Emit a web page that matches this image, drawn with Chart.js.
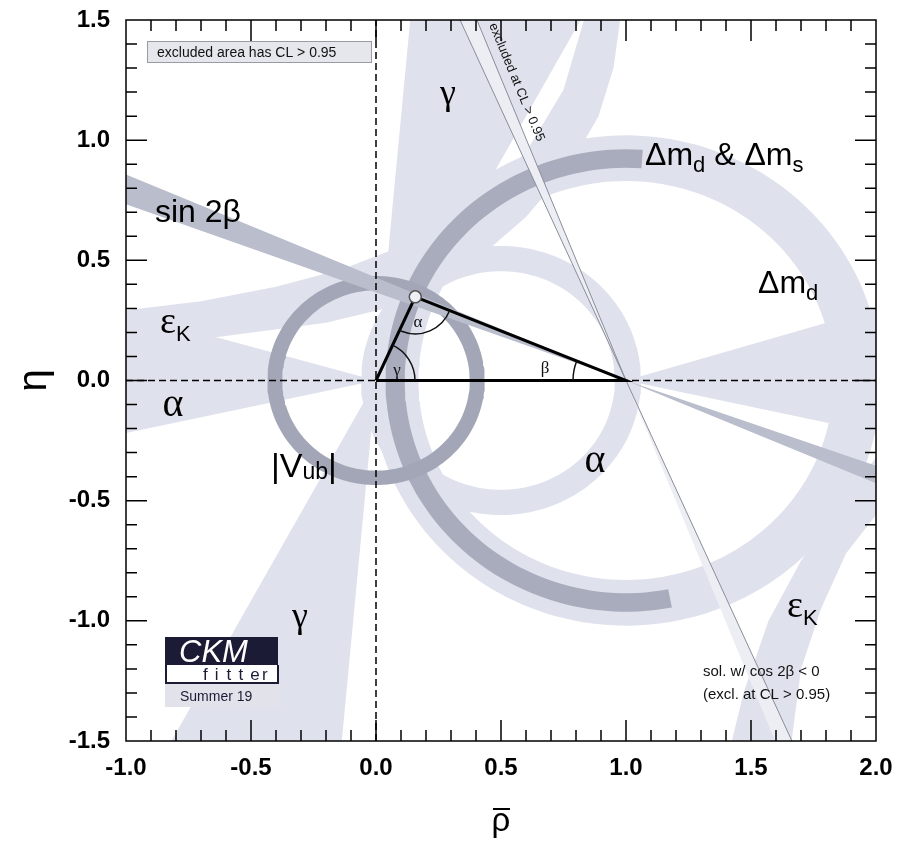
<!DOCTYPE html>
<html>
<head>
<meta charset="utf-8">
<title>CKMfitter Summer 19 - rho/eta plane</title>
<script src="https://cdn.jsdelivr.net/npm/chart.js@4.4.1/dist/chart.umd.min.js"></script>
<style>
  html, body { margin: 0; padding: 0; background: #fff; }
</style>
</head>
<body>
<canvas id="ckm" width="898" height="841"></canvas>
<script>
'use strict';

/* ------------------------------------------------------------------
   Data
------------------------------------------------------------------ */
var rhoRange  = [-1.0, 2.0];
var etaRange  = [-1.5, 1.5];
var tickStep  = 0.1;
var majorStep = 0.5;

// unitarity triangle (0,0) - apex - (1,0)
var triangleRho = [0.0, 0.157, 1.0, 0.0];
var triangleEta = [0.0, 0.348, 0.0, 0.0];

// rings: centre rho, centre eta, inner r, outer r, from deg, to deg
var vubRing   = [0.0, 0.0, 0.375, 0.435, 0, 360];
var dmsRing   = [1.0, 0.0, 0.885, 0.962, 86, 281];
var dmdRing   = [1.0, 0.0, 0.830, 1.020, 0, 360];
var alphaRing = [0.5, 0.0, 0.455, 0.560, 0, 360];

// bands as [rho, eta] outlines
var gammaUp    = [[0, 0], [0.146, 1.6], [0.873, 1.6]];
var gammaDown  = [[0, 0], [-0.873, -1.6], [-0.146, -1.6]];
var alphaLeft  = [[0, 0], [-1.1, 0.31], [-1.1, -0.24]];
var alphaRight = [[1, 0], [2.1, 0.33], [2.1, -0.24]];
var epsKUpper  = [[-1.1, 0.28], [-0.7, 0.33], [-0.4, 0.39], [-0.13, 0.465], [0.157, 0.58],
                  [0.4, 0.74], [0.6, 0.95], [0.75, 1.21], [0.86, 1.6],
                  [0.99, 1.6], [0.95, 1.3], [0.89, 1.1], [0.78, 0.9], [0.6, 0.68],
                  [0.4, 0.5], [0.157, 0.33], [-0.2, 0.24], [-0.64, 0.18], [-1.1, 0.14]];
var epsKLower  = [[1.40, -1.6], [1.47, -1.3], [1.57, -1.0], [1.7, -0.75], [1.85, -0.52],
                  [2.0, -0.32], [2.1, -0.25], [2.1, -0.5], [2.0, -0.56], [1.88, -0.72],
                  [1.78, -0.95], [1.7, -1.2], [1.65, -1.6]];
var sin2bBand  = [[1, 0], [-1.1, 0.90], [-1.1, 0.77], [1, 0], [2.1, -0.39], [2.1, -0.47]];
var sin2bExcl  = [[1, 0], [0.292, 1.6], [0.364, 1.6], [1, 0], [1.708, -1.6], [1.636, -1.6]];

/* ------------------------------------------------------------------
   Helpers
------------------------------------------------------------------ */
var SANS  = '"Liberation Sans", Arial, Helvetica, sans-serif';
var SERIF = '"Liberation Serif", "Times New Roman", serif';

var LIGHT = '#dfe2ec';
var MID   = '#b9bdcc';
var DARK  = '#a2a6b7';

function toXY(list) {
    return list.map(function (p) { return { x: p[0], y: p[1] }; });
}

// annulus sector outline: outer edge one way, inner edge back
function ringXY(r) {
    var pts = [], d = Math.PI / 180, n = Math.ceil((r[5] - r[4]) / 2), i, a;
    for (i = 0; i <= n; i++) {
        a = (r[4] + (r[5] - r[4]) * i / n) * d;
        pts.push({ x: r[0] + r[3] * Math.cos(a), y: r[1] + r[3] * Math.sin(a) });
    }
    for (i = n; i >= 0; i--) {
        a = (r[4] + (r[5] - r[4]) * i / n) * d;
        pts.push({ x: r[0] + r[2] * Math.cos(a), y: r[1] + r[2] * Math.sin(a) });
    }
    return pts;
}

function band(label, pts, color, order, edge) {
    return {
        label: label, data: pts, fill: 'shape', backgroundColor: color,
        borderColor: edge || color, borderWidth: edge ? 1 : 0,
        pointRadius: 0, order: order
    };
}

function isMajor(v) {
    var k = v / majorStep;
    return Math.abs(k - Math.round(k)) < 1e-6;
}

function runs(ctx, parts, x, y) {
    parts.forEach(function (p) {
        ctx.font = p[1];
        ctx.fillText(p[0], x, y + (p[2] || 0));
        x += ctx.measureText(p[0]).width;
    });
}

/* ------------------------------------------------------------------
   Decorations: frame, inward ticks, angles, labels, logo
------------------------------------------------------------------ */
var decorPlugin = {
    id: 'ckmDecor',
    afterDatasetsDraw: function (chart) {
        var ctx = chart.ctx, xs = chart.scales.x, ys = chart.scales.y, area = chart.chartArea;
        var px = function (v) { return xs.getPixelForValue(v); };
        var py = function (v) { return ys.getPixelForValue(v); };

        ctx.save();

        // angle markers of the triangle
        function angleArc(c, p1, p2, rad) {
            var cx = px(c[0]), cy = py(c[1]);
            var a1 = Math.atan2(py(p1[1]) - cy, px(p1[0]) - cx);
            var a2 = Math.atan2(py(p2[1]) - cy, px(p2[0]) - cx);
            var lo = Math.min(a1, a2), hi = Math.max(a1, a2);
            if (hi - lo > Math.PI) { var t = lo; lo = hi; hi = t + 2 * Math.PI; }
            ctx.beginPath();
            ctx.arc(cx, cy, rad, lo, hi);
            ctx.stroke();
        }
        var O = [triangleRho[0], triangleEta[0]], A = [triangleRho[1], triangleEta[1]], B = [triangleRho[2], triangleEta[2]];
        ctx.strokeStyle = '#111';
        ctx.lineWidth = 1.5;
        angleArc(O, B, A, 39);
        angleArc(A, O, B, 37);
        angleArc(B, O, A, 53);

        // fit result at the apex
        ctx.beginPath();
        ctx.arc(px(A[0]), py(A[1]), 6, 0, 2 * Math.PI);
        ctx.fillStyle = '#eef0f5';
        ctx.fill();
        ctx.strokeStyle = '#555';
        ctx.lineWidth = 1.5;
        ctx.stroke();

        // frame and inward ticks
        ctx.strokeStyle = '#000';
        ctx.lineWidth = 1.5;
        ctx.strokeRect(area.left, area.top, area.right - area.left, area.bottom - area.top);
        xs.ticks.forEach(function (t) {
            if (t.value <= rhoRange[0] || t.value >= rhoRange[1]) return;
            var x = px(t.value), len = isMajor(t.value) ? 21 : 11;
            ctx.beginPath();
            ctx.moveTo(x, area.bottom); ctx.lineTo(x, area.bottom - len);
            ctx.moveTo(x, area.top);    ctx.lineTo(x, area.top + len);
            ctx.stroke();
        });
        ys.ticks.forEach(function (t) {
            if (t.value <= etaRange[0] || t.value >= etaRange[1]) return;
            var y = py(t.value), len = isMajor(t.value) ? 21 : 11;
            ctx.beginPath();
            ctx.moveTo(area.left, y);  ctx.lineTo(area.left + len, y);
            ctx.moveTo(area.right, y); ctx.lineTo(area.right - len, y);
            ctx.stroke();
        });

        // overbar of the rho axis title
        var tx = (area.left + area.right) / 2;
        ctx.lineWidth = 2;
        ctx.beginPath();
        ctx.moveTo(tx - 8, 809); ctx.lineTo(tx + 9, 809);
        ctx.stroke();

        // small greek letters inside the triangle
        ctx.fillStyle = '#111';
        ctx.textAlign = 'center';
        ctx.textBaseline = 'middle';
        ctx.font = '17px ' + SERIF;
        ctx.fillText('\u03b1', px(0.168), py(0.24));
        ctx.fillText('\u03b3', px(0.084), py(0.04));
        ctx.fillText('\u03b2', px(0.676), py(0.05));

        // constraint labels
        ctx.textAlign = 'left';
        ctx.textBaseline = 'alphabetic';
        ctx.fillStyle = '#000';
        var big = '32px ' + SANS, sub = '22px ' + SANS;
        runs(ctx, [['\u0394m', big], ['d', sub, 7], [' & \u0394m', big], ['s', sub, 7]], 645, 165);
        runs(ctx, [['\u0394m', big], ['d', sub, 7]], 758, 293);
        runs(ctx, [['sin 2\u03b2', big]], 155, 222);
        runs(ctx, [['|V', '34px ' + SANS], ['ub', '23px ' + SANS, 2], ['|', '34px ' + SANS]], 271, 477);
        runs(ctx, [['\u03b5', '38px ' + SERIF], ['K', '22px ' + SANS, 8]], 160, 333);
        runs(ctx, [['\u03b5', '38px ' + SERIF], ['K', '22px ' + SANS, 8]], 787, 617);

        ctx.textAlign = 'center';
        ctx.font = '40px ' + SERIF;
        ctx.fillText('\u03b1', 173, 416);
        ctx.fillText('\u03b1', 595, 472);
        ctx.font = '36px ' + SERIF;
        ctx.fillText('\u03b3', 448, 104);
        ctx.fillText('\u03b3', 300, 627);

        // CL note box
        ctx.fillStyle = '#e6e7ec';
        ctx.fillRect(147, 41, 224, 21);
        ctx.strokeStyle = '#9a9aa4';
        ctx.lineWidth = 1;
        ctx.strokeRect(147.5, 41.5, 224, 21);
        ctx.fillStyle = '#111';
        ctx.textAlign = 'left';
        ctx.font = '14px ' + SANS;
        ctx.fillText('excluded area has CL > 0.95', 157, 57);

        // text along the excluded sin2beta solution
        ctx.save();
        ctx.translate(489, 25);
        ctx.rotate(Math.atan2(py(B[1]) - py(1.5), px(B[0]) - px(0.404)));
        ctx.font = '13px ' + SANS;
        ctx.fillText('excluded at CL > 0.95', 0, 0);
        ctx.restore();

        ctx.font = '15px ' + SANS;
        ctx.fillText('sol. w/ cos 2\u03b2 < 0', 703, 676);
        ctx.fillText('(excl. at CL > 0.95)', 703, 699);

        // CKMfitter logo
        ctx.fillStyle = '#e2e3ea';
        ctx.fillRect(165, 683, 114, 24);
        ctx.fillStyle = '#1b1b35';
        ctx.fillRect(165, 637, 113, 28);
        ctx.fillStyle = '#fff';
        ctx.fillRect(166, 665, 111, 17);
        ctx.strokeStyle = '#1b1b35';
        ctx.lineWidth = 2;
        ctx.beginPath();
        ctx.moveTo(166, 665); ctx.lineTo(166, 683); ctx.lineTo(278, 683); ctx.lineTo(278, 665);
        ctx.stroke();
        ctx.fillStyle = '#fff';
        ctx.font = 'italic 31px ' + SANS;
        ctx.fillText('CKM', 179, 662);
        ctx.fillStyle = '#1b1b35';
        ctx.font = '17px ' + SANS;
        'fitter'.split('').forEach(function (ch, i) {
            ctx.fillText(ch, 203 + i * 11.8, 680);
        });
        ctx.font = '14px ' + SANS;
        ctx.fillText('Summer 19', 180, 701);

        ctx.restore();
    }
};

/* ------------------------------------------------------------------
   Datasets
------------------------------------------------------------------ */
var datasets = [
    {
        label: 'triangle',
        data: triangleRho.map(function (r, i) { return { x: r, y: triangleEta[i] }; }),
        borderColor: '#000', borderWidth: 3, borderJoinStyle: 'miter',
        pointRadius: 0, fill: false, order: 1
    },
    {
        label: 'eta = 0', data: [{ x: rhoRange[0], y: 0 }, { x: rhoRange[1], y: 0 }],
        borderColor: '#000', borderWidth: 1.5, borderDash: [7, 4],
        pointRadius: 0, fill: false, order: 2
    },
    {
        label: 'rho = 0', data: [{ x: 0, y: etaRange[0] }, { x: 0, y: etaRange[1] }],
        borderColor: '#000', borderWidth: 1.5, borderDash: [7, 4],
        pointRadius: 0, fill: false, order: 2
    },
    band('sin2b excluded', toXY(sin2bExcl), '#eceef4', 4, '#8a8d99'),
    band('sin2b', toXY(sin2bBand), MID, 5),
    band('Vub', ringXY(vubRing), DARK, 6),
    band('dmd & dms', ringXY(dmsRing), '#a8acbd', 6),
    band('gamma up', toXY(gammaUp), LIGHT, 10),
    band('gamma down', toXY(gammaDown), LIGHT, 10),
    band('alpha ring', ringXY(alphaRing), LIGHT, 10),
    band('alpha left', toXY(alphaLeft), LIGHT, 10),
    band('alpha right', toXY(alphaRight), LIGHT, 10),
    band('dmd', ringXY(dmdRing), LIGHT, 10),
    band('epsK', toXY(epsKUpper), LIGHT, 10),
    band('epsK 2', toXY(epsKLower), LIGHT, 10)
];

var tickFont = { family: SANS, size: 24, weight: 'bold' };

function tickLabel(v) { return isMajor(v) ? v.toFixed(1) : ''; }

new Chart(document.getElementById('ckm').getContext('2d'), {
    type: 'line',
    data: { datasets: datasets },
    options: {
        responsive: false,
        animation: false,
        events: [],
        layout: { padding: { top: 20, right: 22, left: 0, bottom: 0 } },
        plugins: { legend: { display: false }, tooltip: { enabled: false } },
        scales: {
            x: {
                type: 'linear', min: rhoRange[0], max: rhoRange[1],
                grid: { display: false, drawTicks: false },
                border: { display: false },
                ticks: { stepSize: tickStep, maxTicksLimit: 40, autoSkip: false, maxRotation: 0,
                         padding: 13, color: '#000', font: tickFont, callback: tickLabel },
                title: { display: true, text: '\u03c1', color: '#000',
                         font: { family: SANS, size: 33, lineHeight: 1 }, padding: { top: 0, bottom: 3 } },
                afterFit: function (s) { s.height = 100; s.paddingLeft = 0; s.paddingRight = 0; }
            },
            y: {
                type: 'linear', min: etaRange[0], max: etaRange[1],
                grid: { display: false, drawTicks: false },
                border: { display: false },
                ticks: { stepSize: tickStep, maxTicksLimit: 40, autoSkip: false,
                         padding: 16, color: '#000', font: tickFont, callback: tickLabel },
                title: { display: true, text: '\u03b7', color: '#000',
                         font: { family: SANS, size: 40 }, padding: { top: 11, bottom: 0 } },
                afterFit: function (s) { s.width = 126; s.paddingTop = 0; s.paddingBottom = 0; }
            }
        }
    },
    plugins: [decorPlugin]
});
</script>
</body>
</html>
